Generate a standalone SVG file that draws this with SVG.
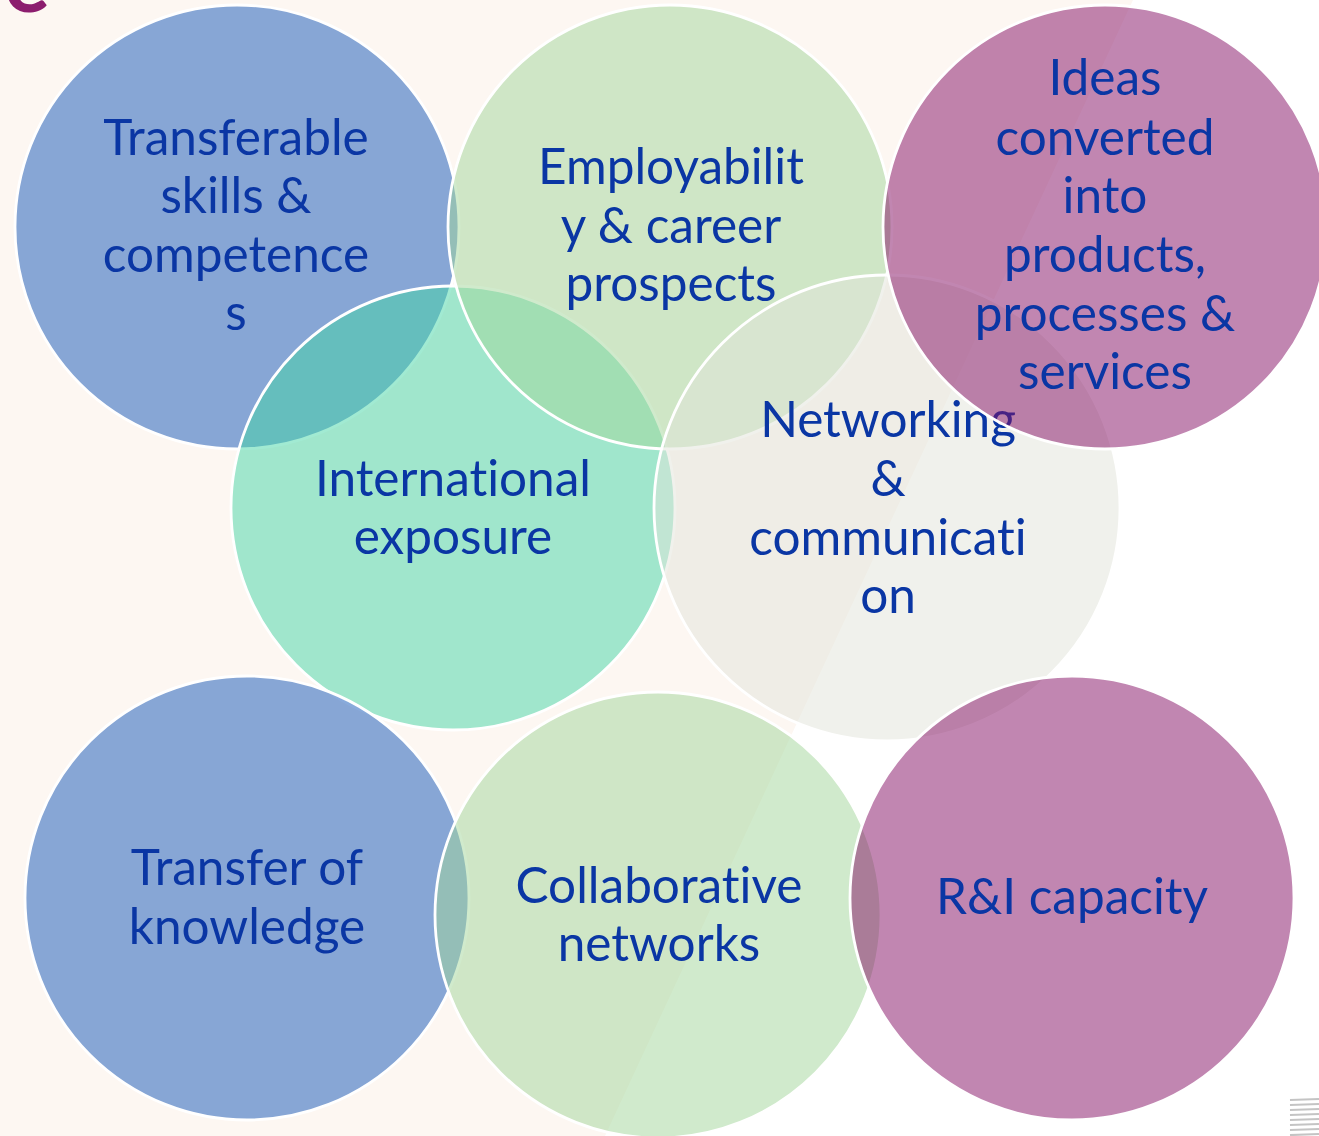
<svg xmlns="http://www.w3.org/2000/svg" width="1319" height="1136" viewBox="0 0 1319 1136">
<style>
.c{stroke:#ffffff;stroke-width:2.8;fill-opacity:0.5}
.blue{fill:#1155b8}
.green{fill:#a1d59a}
.purple{fill:#830d64}
.teal{fill:#43d5a6}
.beige{fill:#e1e3da}
.t{font-family:Lato,"Liberation Sans",sans-serif;font-size:49.5px;fill:#0a36a4;text-anchor:middle;font-variant-ligatures:none;font-feature-settings:"liga" 0}
</style>
<rect x="0" y="0" width="1319" height="1136" fill="#fdf7f2"/>
<polygon points="1133,0 1319,0 1319,1136 605,1136" fill="#ffffff"/>
<text x="4" y="12" font-family="Lato,'Liberation Sans',sans-serif" font-size="86" font-weight="bold" fill="#8c1d6e">e</text>
<g id="stripes" stroke="#c4c4c4" stroke-width="2.2">
<line x1="1290" y1="1100" x2="1319" y2="1099"/>
<line x1="1290" y1="1105" x2="1319" y2="1104"/>
<line x1="1290" y1="1110" x2="1319" y2="1109"/>
<line x1="1290" y1="1115" x2="1319" y2="1114"/>
<line x1="1290" y1="1120" x2="1319" y2="1119"/>
<line x1="1290" y1="1125" x2="1319" y2="1124"/>
<line x1="1290" y1="1130" x2="1319" y2="1129"/>
<line x1="1290" y1="1135" x2="1319" y2="1134"/>
</g>
<g id="connectors"></g>
<g id="n-transferable">
<circle class="c blue" cx="237" cy="227" r="222"/>
<text class="t"><tspan x="236" y="155">Transferable</tspan><tspan x="236" y="213">skills &amp;</tspan><tspan x="236" y="272">competence</tspan><tspan x="236" y="330">s</tspan></text>
</g>
<g id="n-international">
<circle class="c teal" cx="453" cy="508" r="222"/>
<text class="t"><tspan x="453" y="496">International</tspan><tspan x="453" y="554">exposure</tspan></text>
</g>
<g id="n-employability">
<circle class="c green" cx="670" cy="227" r="222"/>
<text class="t"><tspan x="671" y="184">Employabilit</tspan><tspan x="671" y="243">y &amp; career</tspan><tspan x="671" y="301">prospects</tspan></text>
</g>
<g id="n-networking">
<circle class="c beige" cx="887" cy="508" r="233"/>
<text class="t"><tspan x="888" y="437">Networking</tspan><tspan x="888" y="496">&amp;</tspan><tspan x="888" y="555">communicati</tspan><tspan x="888" y="613">on</tspan></text>
</g>
<g id="n-ideas">
<circle class="c purple" cx="1105" cy="227" r="222"/>
<text class="t"><tspan x="1105" y="95">Ideas</tspan><tspan x="1105" y="155">converted</tspan><tspan x="1105" y="213">into</tspan><tspan x="1105" y="272">products,</tspan><tspan x="1105" y="331">processes &amp;</tspan><tspan x="1105" y="389">services</tspan></text>
</g>
<g id="n-transfer">
<circle class="c blue" cx="247" cy="898" r="222"/>
<text class="t"><tspan x="247" y="885">Transfer of</tspan><tspan x="247" y="944">knowledge</tspan></text>
</g>
<g id="n-collaborative">
<circle class="c green" cx="658" cy="915" r="223"/>
<text class="t"><tspan x="659" y="903">Collaborative</tspan><tspan x="659" y="961">networks</tspan></text>
</g>
<g id="n-ri">
<circle class="c purple" cx="1072" cy="898" r="222"/>
<text class="t"><tspan x="1072" y="914">R&amp;I capacity</tspan></text>
</g>
</svg>
